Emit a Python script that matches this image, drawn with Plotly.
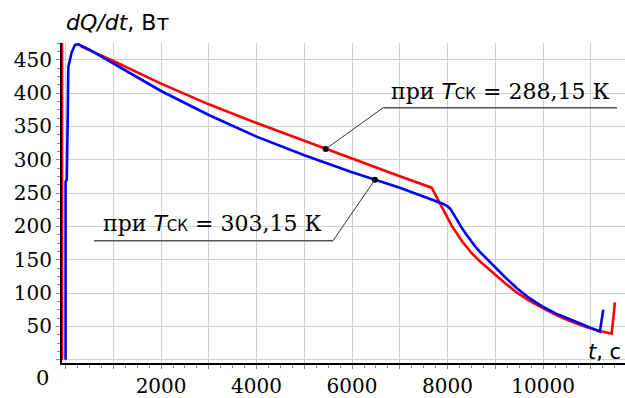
import plotly.graph_objects as go

# ---- data ----
# Blue series: T_CK = 303.15 K
blue_t = [0, 0, 25, 30, 45, 57, 92, 128, 197, 266, 500, 1000, 2000, 3000, 4000, 5000,
          6000, 7000, 7500, 7900, 8000, 8060, 8120, 8200, 8295, 8400, 8500, 8600, 8700,
          8850, 9000, 9200, 9447, 9700, 10005, 10300, 10563, 10900, 11190, 11261]
blue_q = [0, 267, 270, 362, 365, 439, 452, 461, 472, 473, 465, 444, 403, 367, 334.6, 306.5,
          281, 258, 245, 234, 230, 226, 219, 209, 198, 187, 177, 168, 160,
          149, 138, 124, 107.5, 93, 79, 68, 60.5, 50.5, 42, 75]

# Red series: T_CK = 288.15 K (vertical start runs off the top of the view)
red_t = [-75, -75, None, 320, 1000, 2000, 3000, 4000, 5000, 6000, 7000, 7667, 7850,
         8085, 8300, 8500, 8700, 9000, 9200, 9447, 9700, 10005, 10300, 10563, 10900,
         11190, 11437, 11505]
red_q = [0, 700, None, 470, 448, 414, 383, 355, 328, 302, 275, 258, 233,
         201, 178, 160, 146, 127, 115, 101, 89, 77, 66, 58, 49,
         43, 39, 86]

# label callouts: point on curve, elbow, end of underline (data units)
lab_texts = ["288,15 К", "303,15 К"]
lab_point_t = [5447, 6479]
lab_point_q = [316, 270]
lab_elbow_t = [6653, 5600]
lab_elbow_q = [378, 178.4]
lab_end_t = [11548, 595]
lab_text_t = [9098, 3072]
lab_text_q = [403, 204]

x_tick_vals = [0, 1000, 2000, 3000, 4000, 5000, 6000, 7000, 8000, 9000, 10000, 11000]
x_tick_text = ["", "", "2000", "", "4000", "", "6000", "", "8000", "", "10000", ""]
y_tick_vals = [0, 50, 100, 150, 200, 250, 300, 350, 400, 450]
y_tick_text = ["", "50", "100", "150", "200", "250", "300", "350", "400", "450"]

SERIF = "DejaVu Serif"
SANS = "DejaVu Sans"

fig = go.Figure()
fig.add_trace(go.Scatter(x=red_t, y=red_q, mode="lines",
                         line=dict(color="#ff0000", width=2.6), connectgaps=False))
fig.add_trace(go.Scatter(x=blue_t, y=blue_q, mode="lines",
                         line=dict(color="#0000ff", width=2.6)))
fig.add_trace(go.Scatter(x=lab_point_t, y=lab_point_q, mode="markers",
                         marker=dict(color="black", size=6), cliponaxis=False))

for i in range(2):
    fig.add_shape(type="line", xref="x", yref="y",
                  x0=lab_point_t[i], y0=lab_point_q[i], x1=lab_elbow_t[i], y1=lab_elbow_q[i],
                  line=dict(color="#333333", width=1))
    fig.add_shape(type="line", xref="x", yref="y",
                  x0=lab_elbow_t[i], y0=lab_elbow_q[i], x1=lab_end_t[i], y1=lab_elbow_q[i],
                  line=dict(color="#555555", width=1.5))
    txt = (f'<span style="font-family:{SERIF}">при </span><i>T</i>'
           f'<span style="font-size:15px">СК</span> = '
           f'<span style="font-family:{SERIF}">{lab_texts[i]}</span>')
    fig.add_annotation(x=lab_text_t[i], y=lab_text_q[i], xref="x", yref="y",
                       text=txt, showarrow=False, xanchor="center", yanchor="middle",
                       font=dict(family=SANS, size=22, color="black"))

# axis titles
fig.add_annotation(x=0.004, y=1.065, xref="paper", yref="paper",
                   text="<i>dQ/dt</i>, Вт", showarrow=False,
                   xanchor="left", yanchor="middle",
                   font=dict(family=SANS, size=22, color="black"))
fig.add_annotation(x=0.997, y=12, xref="paper", yref="y",
                   text="<i>t</i>, с", showarrow=False,
                   xanchor="right", yanchor="middle",
                   font=dict(family=SANS, size=21, color="black"))
fig.add_annotation(x=-0.034, y=-0.048, xref="paper", yref="paper",
                   text="0", showarrow=False, xanchor="center", yanchor="middle",
                   font=dict(family=SERIF, size=21, color="black"))

fig.update_layout(
    width=625, height=398,
    margin=dict(l=62, r=0, t=43, b=35),
    plot_bgcolor="white", paper_bgcolor="white",
    showlegend=False,
    xaxis=dict(range=[-75, 11716], tickvals=x_tick_vals, ticktext=x_tick_text,
               ticks="outside", ticklen=4, tickcolor="#888888",
               showgrid=True, gridcolor="#d0d0d0", gridwidth=1,
               showline=True, linecolor="black", linewidth=2, zeroline=False,
               layer="below traces",
               minor=dict(dtick=250, tick0=0, ticks="outside", ticklen=3,
                          tickcolor="#888888", showgrid=False),
               tickfont=dict(family=SERIF, size=20, color="black")),
    yaxis=dict(range=[-5, 475], tickvals=y_tick_vals, ticktext=y_tick_text,
               ticks="outside", ticklen=4, tickcolor="#888888",
               showgrid=True, gridcolor="#d0d0d0", gridwidth=1,
               showline=True, linecolor="black", linewidth=2, zeroline=False,
               layer="below traces",
               minor=dict(dtick=12.5, tick0=0, ticks="outside", ticklen=3,
                          tickcolor="#888888", showgrid=False),
               tickfont=dict(family=SERIF, size=20, color="black")),
)

fig.write_html("out.html")
